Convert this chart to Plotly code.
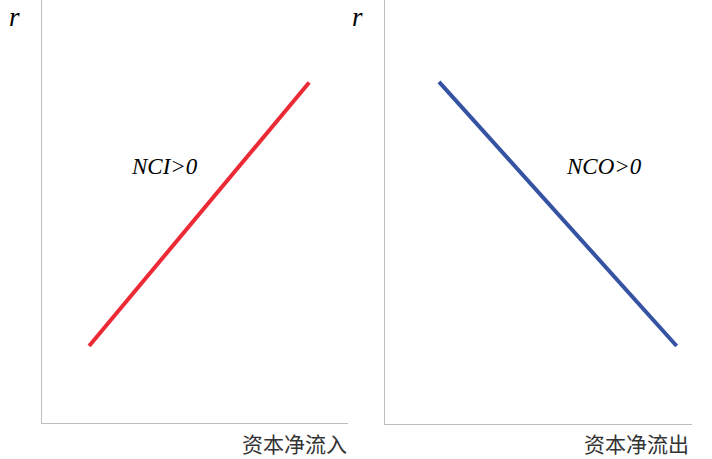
import plotly.graph_objects as go

W, H = 712, 459

# Data (axis units 0-10)
nci_x = [1.54, 8.73]
nci_y = [1.82, 8.05]
nco_x = [1.76, 9.5]
nco_y = [8.07, 1.84]

y_label = "r"
x_labels = ["资本净流入", "资本净流出"]
curve_labels = ["NCI>0", "NCO>0"]

fig = go.Figure()
fig.add_trace(go.Scatter(x=nci_x, y=nci_y, mode="lines",
                         line=dict(color="#ec2a36", width=4),
                         xaxis="x", yaxis="y", showlegend=False, hoverinfo="skip"))
fig.add_trace(go.Scatter(x=nco_x, y=nco_y, mode="lines",
                         line=dict(color="#3653a3", width=4),
                         xaxis="x2", yaxis="y2", showlegend=False, hoverinfo="skip"))

axcommon = dict(showgrid=False, zeroline=False, showticklabels=False, ticks="",
                showline=True, linecolor="#bdbdbd", linewidth=1, range=[0, 10], fixedrange=True)

fig.update_layout(
    width=W, height=H,
    margin=dict(l=0, r=0, t=0, b=0),
    paper_bgcolor="white", plot_bgcolor="white",
    xaxis=dict(domain=[42/W, 348/W], anchor="y", **axcommon),
    yaxis=dict(domain=[(H-423)/H, 1], anchor="x", **axcommon),
    xaxis2=dict(domain=[385/W, 692/W], anchor="y2", **axcommon),
    yaxis2=dict(domain=[(H-424)/H, 1], anchor="x2", **axcommon),
)

serif = "Liberation Serif"
cjk = "Noto Sans CJK SC"


def a(x, y, text, family, size, color="black"):
    return dict(x=x/W, y=1-y/H, xref="paper", yref="paper", text=text,
                xanchor="center", yanchor="middle", showarrow=False,
                font=dict(family=family, size=size, color=color))


ann = [
    a(14, 17, "<i>" + y_label + "</i>", serif, 27),
    a(357, 17, "<i>" + y_label + "</i>", serif, 27),
    a(164, 166, "<i>" + curve_labels[0] + "</i>", serif, 23),
    a(604, 166, "<i>" + curve_labels[1] + "</i>", serif, 23),
    a(294, 443, x_labels[0], cjk, 21, "#333"),
    a(636, 443, x_labels[1], cjk, 21, "#333"),
]
fig.update_layout(annotations=ann)

fig.write_html("out.html")
